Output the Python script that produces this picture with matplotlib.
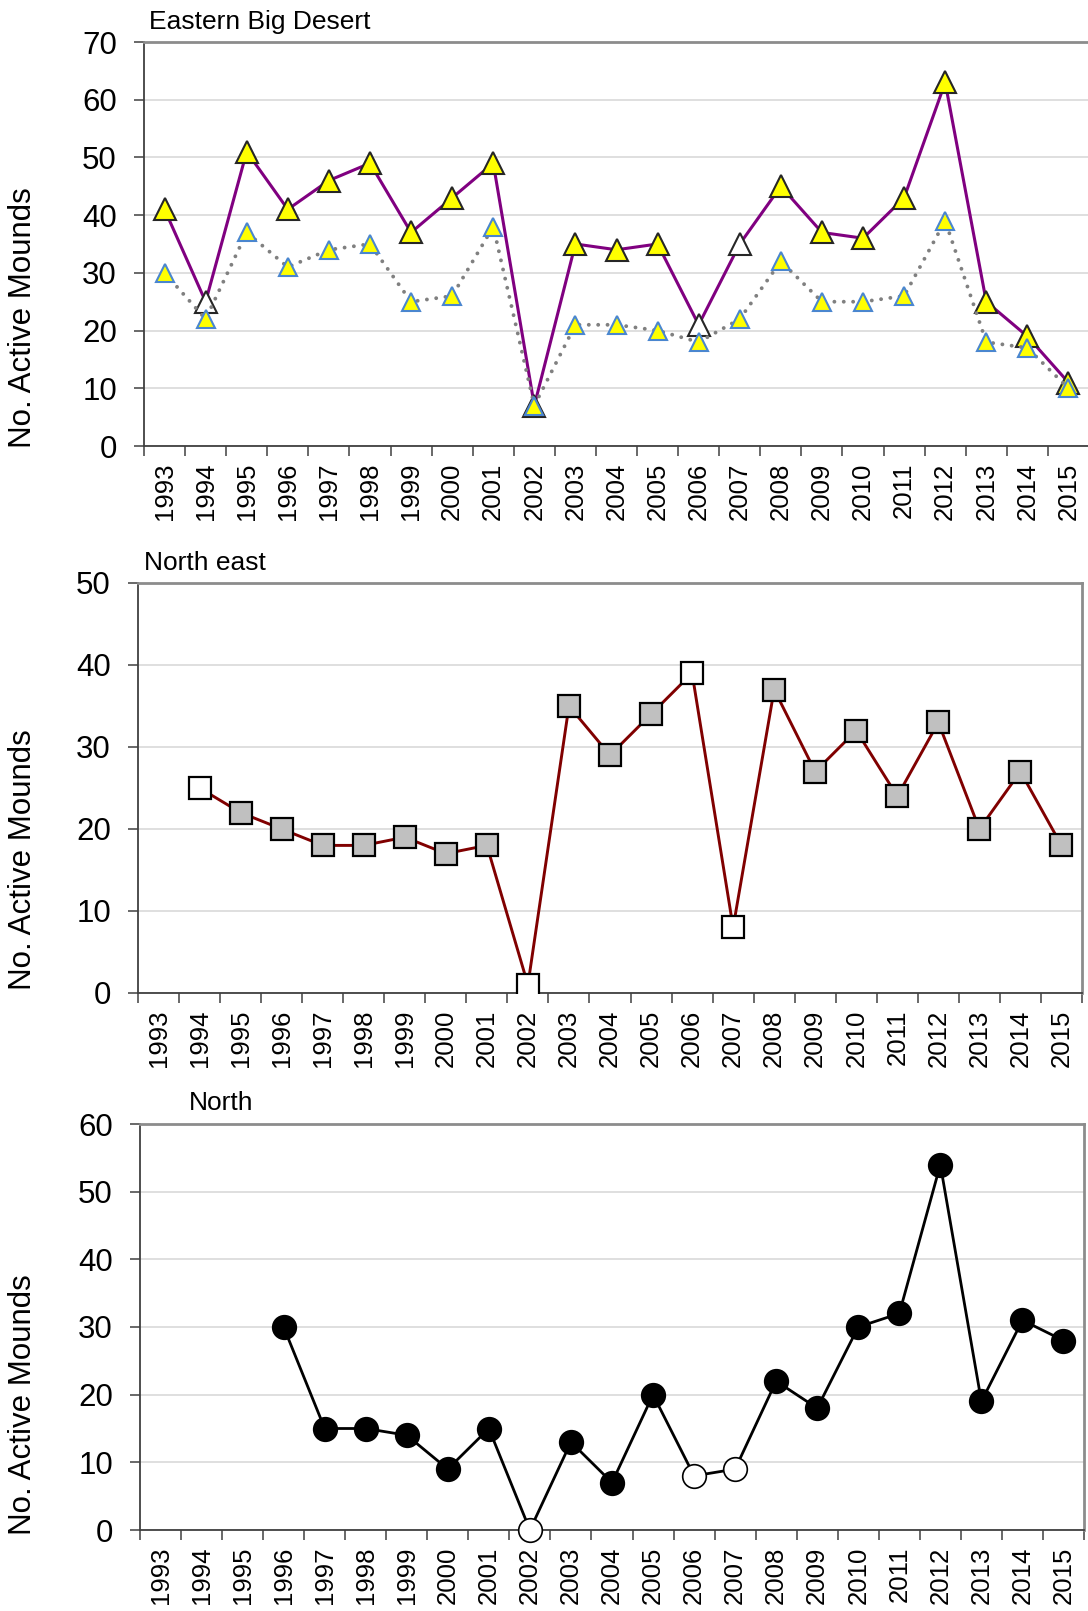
import numpy as np
import matplotlib
matplotlib.use("Agg")
import matplotlib.pyplot as plt

plt.rcParams["font.family"] = ["Liberation Sans", "DejaVu Sans"]

years = list(range(1993, 2016))

# Eastern Big Desert
ebd_total = [41, 25, 51, 41, 46, 49, 37, 43, 49, 7, 35, 34, 35, 21, 35, 45, 37, 36, 43, 63, 25, 19, 11]
ebd_lower = [30, 22, 37, 31, 34, 35, 25, 26, 38, 7, 21, 21, 20, 18, 22, 32, 25, 25, 26, 39, 18, 17, 10]
ebd_open = [1994, 2006, 2007]

# North east
ne = [None, 25, 22, 20, 18, 18, 19, 17, 18, 1, 35, 29, 34, 39, 8, 37, 27, 32, 24, 33, 20, 27, 18]
ne_open = [1994, 2002, 2006, 2007]

# North
north = [None, None, None, 30, 15, 15, 14, 9, 15, 0, 13, 7, 20, 8, 9, 22, 18, 30, 32, 54, 19, 31, 28]
north_open = [2002, 2006, 2007]

titles = ["Eastern Big Desert", "North east", "North"]
ymax = [70, 50, 60]


def to_arr(v):
    return np.array([np.nan if a is None else a for a in v], dtype=float)


def split(vals, open_years):
    v = to_arr(vals)
    is_open = np.array([y in open_years for y in years])
    filled = np.where(is_open, np.nan, v)
    hollow = np.where(is_open, v, np.nan)
    return v, filled, hollow


def style_axes(ax, top):
    n = len(years)
    x = np.arange(n)
    ax.set_xlim(-0.5, n - 0.5)
    ax.set_ylim(0, top)
    ax.set_yticks(np.arange(0, top + 1, 10))
    ax.set_xticks(x)
    ax.set_xticklabels([str(y) for y in years], rotation=90, fontsize=18.5)
    ax.set_xticks(np.arange(-0.5, n), minor=True)
    ax.tick_params(axis="x", which="major", length=0, pad=12)
    ax.tick_params(axis="x", which="minor", length=7, width=1.1, color="#404040")
    ax.tick_params(axis="y", length=7.5, width=1.1, color="#404040", labelsize=22.5, pad=12)
    ax.grid(axis="y", color="#d9d9d9", linewidth=1.2)
    ax.set_axisbelow(True)
    for s in ["left", "bottom"]:
        ax.spines[s].set_color("#404040")
        ax.spines[s].set_linewidth(1.3)
    for s in ["top", "right"]:
        ax.spines[s].set_color("#8c8c8c")
        ax.spines[s].set_linewidth(2)


fig = plt.figure(figsize=(10.88, 16.11), dpi=100)
ax1 = fig.add_axes([144 / 1088, 1 - 446 / 1611, 945 / 1088, 404 / 1611])
ax2 = fig.add_axes([138 / 1088, 1 - 993 / 1611, 944 / 1088, 410 / 1611])
ax3 = fig.add_axes([140 / 1088, 1 - 1530 / 1611, 944 / 1088, 406 / 1611])

x = np.arange(len(years))

# top panel
v, f, h = split(ebd_total, ebd_open)
ax1.plot(x, v, color="#800080", lw=2.2, zorder=3)
ax1.plot(x, f, "^", ms=16, mfc="#ffff00", mec="#262626", mew=1.5, zorder=4)
ax1.plot(x, h, "^", ms=16, mfc="white", mec="#262626", mew=1.5, zorder=4)
low = to_arr(ebd_lower)
ax1.plot(x, low, color="#808080", lw=2.8, linestyle=(0, (0.01, 2.4)),
         dash_capstyle="round", zorder=5)
ax1.plot(x, low, "^", ms=13, mfc="#ffff00", mec="#4a86cf", mew=1.5, zorder=6)
style_axes(ax1, ymax[0])

# middle panel
v, f, h = split(ne, ne_open)
ax2.plot(x, v, color="#800000", lw=2.1, zorder=3)
ax2.plot(x, f, "s", ms=16, mfc="#c0c0c0", mec="black", mew=1.6, zorder=4)
ax2.plot(x, h, "s", ms=16, mfc="white", mec="black", mew=1.6, zorder=4)
style_axes(ax2, ymax[1])

# bottom panel
v, f, h = split(north, north_open)
ax3.plot(x, v, color="black", lw=2.0, zorder=3, clip_on=False)
ax3.plot(x, f, "o", ms=17, mfc="black", mec="black", mew=1.2, zorder=4, clip_on=False)
ax3.plot(x, h, "o", ms=17, mfc="white", mec="black", mew=1.2, zorder=4, clip_on=False)
style_axes(ax3, ymax[2])

# titles and y labels
fig.text(149 / 1088, 1 - 29 / 1611, titles[0], fontsize=19, va="baseline")
fig.text(144 / 1088, 1 - 570 / 1611, titles[1], fontsize=19, va="baseline")
fig.text(189 / 1088, 1 - 1110 / 1611, titles[2], fontsize=19, va="baseline")
for yc in [318, 860, 1405]:
    fig.text(23 / 1088, 1 - yc / 1611, "No. Active Mounds", fontsize=22.5,
             rotation=90, ha="center", va="center")

plt.savefig("out.png", dpi=100)
